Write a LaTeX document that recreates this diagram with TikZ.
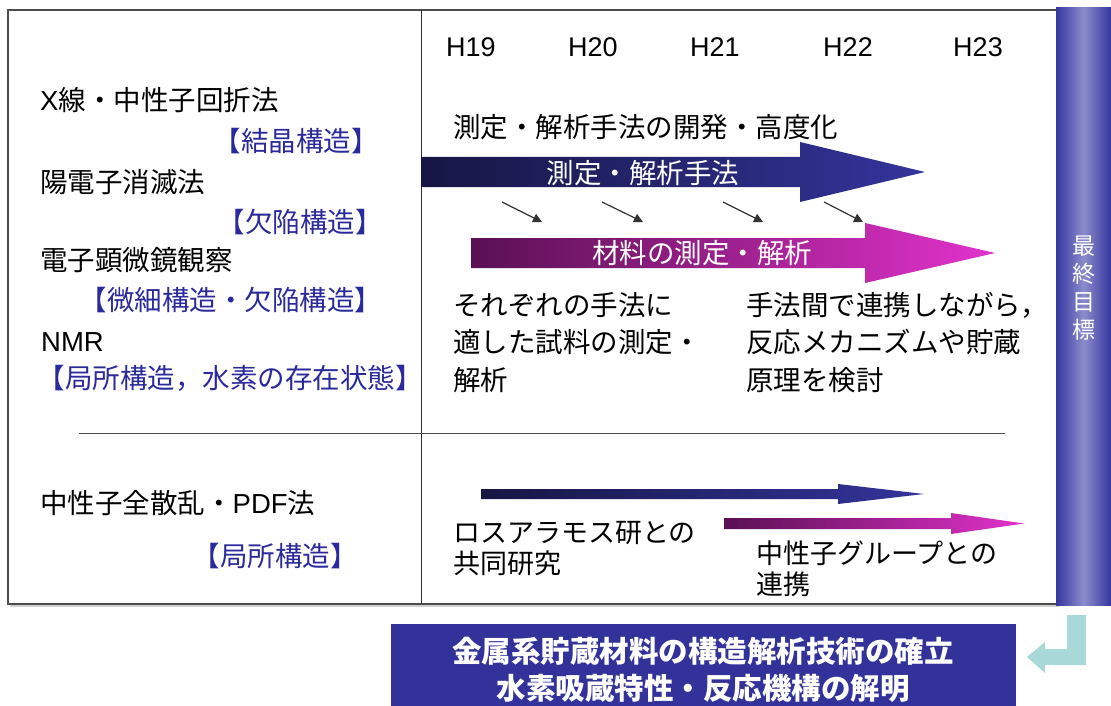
\documentclass[tikz,border=0pt]{standalone}
\usepackage{fontspec}
\setmainfont{Noto Sans CJK JP}
\newfontfamily\lat{Liberation Sans}
\usetikzlibrary{arrows.meta}
\definecolor{navyA}{HTML}{161644}
\definecolor{navyB}{HTML}{34349C}
\definecolor{magA}{HTML}{5A1052}
\definecolor{magB}{HTML}{E232CC}
\definecolor{barA}{HTML}{3636A0}
\definecolor{barB}{HTML}{8C8CCC}
\definecolor{boxblue}{HTML}{32329A}
\definecolor{bluetxt}{HTML}{2A2A9C}
\definecolor{teal}{HTML}{A8D8D8}
\begin{document}
\begin{tikzpicture}[x=1pt,y=-1pt,
  txt/.style={inner sep=0pt, font=\fontsize{27.5}{37.5}\selectfont, align=left, anchor=base west},
  btxt/.style={inner sep=0pt, font=\fontsize{27.5}{37.5}\selectfont, text=bluetxt, anchor=base},
  yr/.style={inner sep=0pt, font=\lat\fontsize{27}{30}\selectfont, anchor=base},
  wtxt/.style={inner sep=0pt, font=\fontsize{27.5}{30}\selectfont, text=white, anchor=base},
  small/.style={draw=black!80, line width=1.2pt, -{Triangle[length=9pt,width=9pt]}}
]
\useasboundingbox (0,0) rectangle (1111,706);
% frame with shadow
\fill[black!18] (10,12) rectangle (1059,607);
\fill[white] (8,10) rectangle (1057,604);
\draw[black!70, line width=1.2pt] (8,10) rectangle (1057,604);
% right bar
\shade[left color=barA, right color=barA, middle color=barB] (1056,8) rectangle (1111,605);
\node[inner sep=0pt, align=center, text=white, font=\fontsize{23}{28}\selectfont] (goal) at (1084,288) {最\\終\\目\\標};
% divider lines
\coordinate (vt) at (421,10); \coordinate (vb) at (421,604);
\draw[black!80, line width=1pt] (vt) -- (vb);
\coordinate (hl) at (79,433); \coordinate (hr) at (1005,433);
\draw[black!70, line width=1pt] (hl) -- (hr);
% years
\node[yr] (h19) at (471,57) {H19};
\node[yr] (h20) at (593,57) {H20};
\node[yr] (h21) at (715,57) {H21};
\node[yr] (h22) at (848,57) {H22};
\node[yr] (h23) at (978,57) {H23};
% left texts
\node[txt] (m1) at (40,111) {{\lat X}線・中性子回折法};
\node[btxt] (s1) at (296,151) {【結晶構造】};
\node[txt] (m2) at (40,192) {陽電子消滅法};
\node[btxt] (s2) at (300,232) {【欠陥構造】};
\node[txt] (m3) at (40,270) {電子顕微鏡観察};
\node[btxt] (s3) at (231,310) {【微細構造・欠陥構造】};
\node[txt] (m4) at (41,351) {\lat NMR};
\node[btxt] (s4) at (230,388) {【局所構造，水素の存在状態】};
\node[txt] (m5) at (40,513) {中性子全散乱・{\lat PDF}法};
\node[btxt] (s5) at (275,566) {【局所構造】};
% right upper texts
\node[txt] (dev) at (453,138) {測定・解析手法の開発・高度化};
% arrow 1
\shade[left color=navyA, right color=navyB] (421,157) -- (800,157) -- (800,142) -- (925,172) -- (800,202) -- (800,187) -- (421,187) -- cycle;
\node[wtxt] (a1t) at (643,183) {測定・解析手法};
% arrow 2
\shade[left color=magA, right color=magB] (471,238) -- (865,238) -- (865,223) -- (995,253) -- (865,283) -- (865,268) -- (471,268) -- cycle;
\node[wtxt] (a2t) at (702,263) {材料の測定・解析};
% small arrows
\coordinate (p1) at (502,202); \coordinate (q1) at (542,222);
\coordinate (p2) at (602,202); \coordinate (q2) at (643,222);
\coordinate (p3) at (723,202); \coordinate (q3) at (763,222);
\coordinate (p4) at (824,202); \coordinate (q4) at (863,222);
\draw[small] (p1) -- (q1);
\draw[small] (p2) -- (q2);
\draw[small] (p3) -- (q3);
\draw[small] (p4) -- (q4);
% explanation texts (base = baseline of last line)
\node[txt] (e1) at (453,390) {それぞれの手法に\\適した試料の測定・\\解析};
\node[txt] (e2) at (746,390) {手法間で連携しながら，\\反応メカニズムや貯蔵\\原理を検討};
% lower arrows
\shade[left color=navyA, right color=navyB] (481,489) -- (838,489) -- (838,484) -- (924,494) -- (838,504) -- (838,499) -- (481,499) -- cycle;
\shade[left color=magA, right color=magB] (724,518) -- (951,518) -- (951,513) -- (1024,523.5) -- (951,534) -- (951,529) -- (724,529) -- cycle;
\node[txt, font=\fontsize{27}{31}\selectfont] (l1) at (453,573) {ロスアラモス研との\\共同研究};
\node[txt, font=\fontsize{27}{31}\selectfont] (l2) at (756,594) {中性子グループとの\\連携};
% bottom box
\fill[boxblue] (391,624) rectangle (1016,706);
\node[inner sep=0pt, align=center, text=white, font=\bfseries\fontsize{29.5}{37}\selectfont] (goalbox) at (703,670) {金属系貯蔵材料の構造解析技術の確立\\水素吸蔵特性・反応機構の解明};
% teal return arrow
\fill[teal] (1067,615) -- (1086,615) -- (1086,665) -- (1045,665) -- (1045,673) -- (1027,657) -- (1045,642) -- (1045,649) -- (1067,649) -- cycle;
\end{tikzpicture}
\end{document}
